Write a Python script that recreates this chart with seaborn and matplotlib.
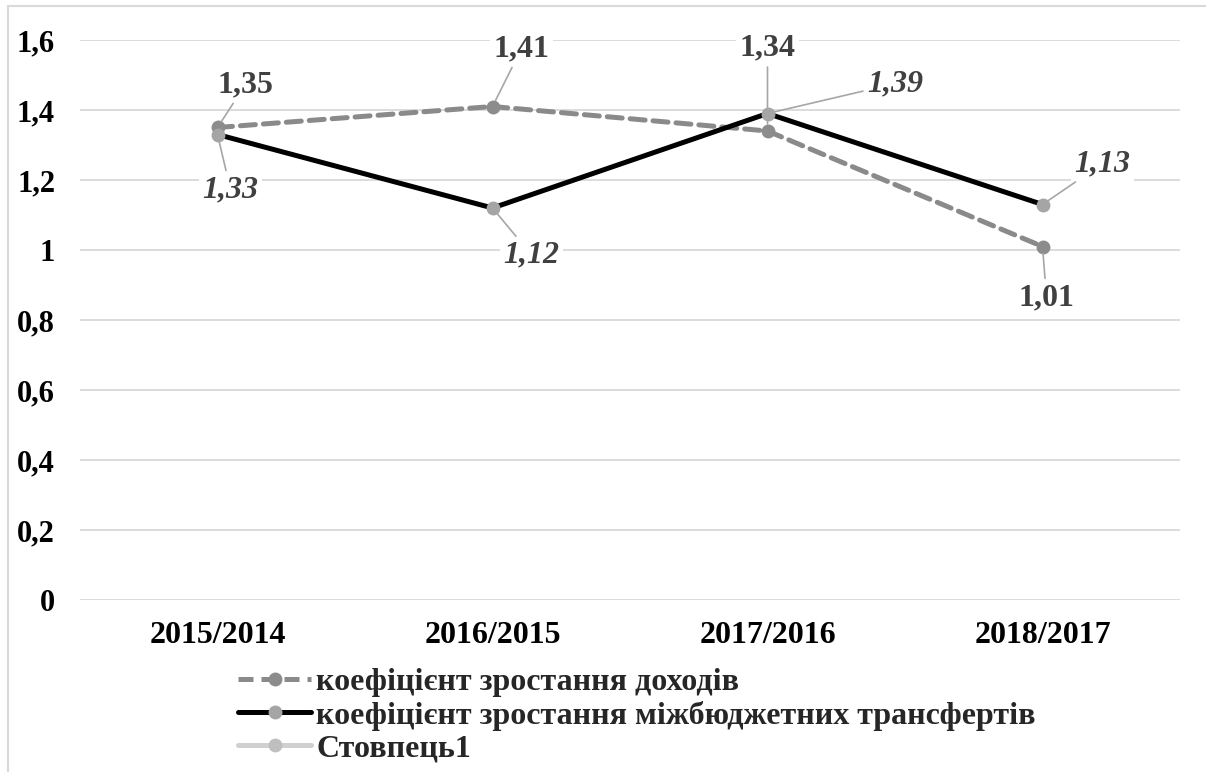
import matplotlib
matplotlib.use("Agg")
import matplotlib.pyplot as plt
from matplotlib.font_manager import FontProperties
from matplotlib.lines import Line2D
import pandas as pd
import seaborn as sns

# Data
periods = ["2015/2014", "2016/2015", "2017/2016", "2018/2017"]
income_growth = [1.35, 1.41, 1.34, 1.01]
transfer_growth = [1.33, 1.12, 1.39, 1.13]
income_label = "коефіцієнт зростання доходів"
transfer_label = "коефіцієнт зростання міжбюджетних трансфертів"
empty_label = "Стовпець1"
yticks = [0, 0.2, 0.4, 0.6, 0.8, 1.0, 1.2, 1.4, 1.6]

# label offsets in pixels (x, y) relative to each point
income_offsets = [(28, 43), (29, 58), (0, 83), (4, -51)]
transfer_offsets = [(13, -55), (39, -47), (128, 30), (60, 41)]

sns.set_theme(style="white")
plt.rcParams["font.family"] = ["Liberation Serif", "DejaVu Serif"]

bold = FontProperties(family="Liberation Serif", weight="bold", size=23)
bold_it = FontProperties(family="Liberation Serif", weight="bold",
                         style="italic", size=23)
legend_font = FontProperties(family="Liberation Serif", weight="bold",
                             size=23)

df = pd.DataFrame({"x": range(len(periods)), "income": income_growth,
                   "transfer": transfer_growth})

fig = plt.figure(figsize=(12.06, 7.72), dpi=100)
ax = fig.add_axes([80 / 1206, 1 - 600 / 772, 1100 / 1206, 560 / 772])

sns.lineplot(data=df, x="x", y="income", ax=ax, color="#8a8a8a", lw=3.6,
             marker="o", markersize=10, markeredgewidth=0,
             markerfacecolor="#8c8c8c", zorder=3)
ax.lines[-1].set_dashes((3, 1.6))
ax.lines[-1].set_dash_capstyle("round")
sns.lineplot(data=df, x="x", y="transfer", ax=ax, color="black", lw=3.6,
             marker="o", markersize=10, markeredgewidth=0,
             markerfacecolor="#a5a5a5", zorder=4)

ax.set_xlim(-0.5, len(periods) - 0.5)
ax.set_ylim(0, 1.6)
ax.set_yticks(yticks)
ax.set_yticklabels([f"{v:g}".replace(".", ",") for v in yticks],
                   fontweight="bold")
ax.set_xticks(range(len(periods)))
ax.set_xticklabels(periods, fontweight="bold")
ax.tick_params(axis="both", length=0, labelsize=22, colors="black")
ax.tick_params(axis="x", labelsize=23, pad=15)
ax.tick_params(axis="y", pad=18)
ax.set_xlabel("")
ax.set_ylabel("")
ax.grid(axis="y", color="#d9d9d9", lw=1.3)
for s in ax.spines.values():
    s.set_visible(False)

bbox = dict(boxstyle="square,pad=0.1", fc="white", ec="none")
leader = dict(arrowstyle="-", color="#a6a6a6", lw=1.2, shrinkA=1, shrinkB=5)
for i, (v, off) in enumerate(zip(income_growth, income_offsets)):
    ax.annotate(f"{v:.2f}".replace(".", ","), xy=(i, v), xytext=off,
                textcoords="offset pixels", ha="center", va="center",
                fontproperties=bold, color="#404040",
                bbox=bbox, arrowprops=leader, zorder=5)
for i, (v, off) in enumerate(zip(transfer_growth, transfer_offsets)):
    ax.annotate(f"{v:.2f}".replace(".", ","), xy=(i, v), xytext=off,
                textcoords="offset pixels", ha="center", va="center",
                fontproperties=bold_it, color="#404040",
                bbox=bbox, arrowprops=leader, zorder=5)

handles = [
    Line2D([], [], color="#8a8a8a", lw=3.6, dashes=(3, 1.6), marker="o",
           markersize=10, markeredgewidth=0, markerfacecolor="#8c8c8c"),
    Line2D([], [], color="black", lw=3.6, marker="o", markersize=10,
           markeredgewidth=0, markerfacecolor="#a5a5a5"),
    Line2D([], [], color="#d0d0d0", lw=3.6, marker="o", markersize=10,
           markeredgewidth=0, markerfacecolor="#bfbfbf"),
]
fig.legend(handles, [income_label, transfer_label, empty_label],
           loc="upper left", bbox_to_anchor=(238 / 1206, 1 - 668 / 772),
           frameon=False, handlelength=2.3, handletextpad=0.15,
           labelspacing=0.1, borderpad=0, borderaxespad=0,
           prop=legend_font)

# thin frame lines at top and left of the chart area
fig.add_artist(Line2D([8 / 1206, 1], [1 - 6 / 772, 1 - 6 / 772],
                      color="#d9d9d9", lw=1.5))
fig.add_artist(Line2D([8 / 1206, 8 / 1206], [0, 1 - 6 / 772],
                      color="#d9d9d9", lw=1.5))

fig.savefig("out.png", dpi=100, facecolor="white")
